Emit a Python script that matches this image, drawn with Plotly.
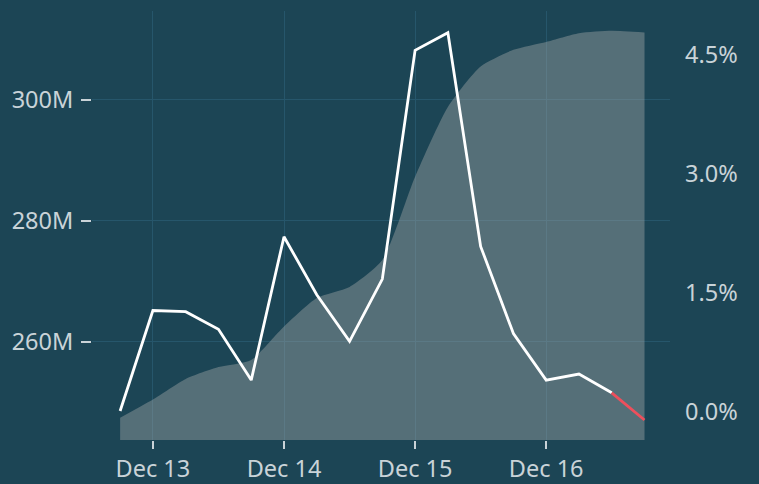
import plotly.graph_objects as go

# ---- data ----
times = [
    "2023-12-12 18:00", "2023-12-13 00:00", "2023-12-13 06:00", "2023-12-13 12:00",
    "2023-12-13 18:00", "2023-12-14 00:00", "2023-12-14 06:00", "2023-12-14 12:00",
    "2023-12-14 18:00", "2023-12-15 00:00", "2023-12-15 06:00", "2023-12-15 12:00",
    "2023-12-15 18:00", "2023-12-16 00:00", "2023-12-16 06:00", "2023-12-16 12:00",
    "2023-12-16 18:00",
]
volume_m = [248.6, 265.2, 265.0, 262.1, 253.7, 277.4, 267.8, 260.1, 270.4,
            308.2, 311.1, 275.8, 261.4, 253.7, 254.7, 251.6, 247.1]
cum_pct = [-0.08, 0.15, 0.41, 0.56, 0.65, 1.07, 1.43, 1.57, 1.91,
           2.96, 3.84, 4.35, 4.56, 4.66, 4.77, 4.80, 4.78]
left_ticks_m = [260, 280, 300]
right_ticks_pct = [0.0, 1.5, 3.0, 4.5]

# ---- style ----
BG = "#1c4555"
GRID = "#26566b"
TXT = "#c9d3d8"
FONT = "Noto Sans"
Y_PCT_MIN, Y_PCT_MAX = -0.36, 5.05

volume = [v * 1e6 for v in volume_m]
pct = [p / 100 for p in cum_pct]

fig = go.Figure()

# area on the base (right, percentage) axis
fig.add_trace(go.Scatter(
    x=times, y=[Y_PCT_MIN / 100] * len(times), yaxis="y", mode="lines",
    line=dict(width=0), hoverinfo="skip", showlegend=False,
))
fig.add_trace(go.Scatter(
    x=times, y=pct, yaxis="y", mode="lines", fill="tonexty",
    fillcolor="rgba(165,170,170,0.42)",
    line=dict(width=0, shape="spline", smoothing=0.6),
    showlegend=False,
))
# line on the overlaying (left, volume) axis
fig.add_trace(go.Scatter(
    x=times[:-1], y=volume[:-1], yaxis="y2", mode="lines",
    line=dict(color="#ffffff", width=2.8), showlegend=False,
))
fig.add_trace(go.Scatter(
    x=times[-2:], y=volume[-2:], yaxis="y2", mode="lines",
    line=dict(color="#ee4f5c", width=2.8), showlegend=False,
))

fig.update_layout(
    width=759, height=484,
    margin=dict(l=92, r=89, t=11, b=44),
    paper_bgcolor=BG, plot_bgcolor=BG,
    font=dict(family=FONT, size=23.5, color=TXT),
    xaxis=dict(
        type="date", automargin=False,
        range=["2023-12-12 12:51", "2023-12-16 22:40"],
        dtick=86400000, tick0="2023-12-13",
        tickformat="%b %d",
        showgrid=True, gridcolor=GRID, gridwidth=1,
        zeroline=False, showline=False,
        ticks="outside", ticklen=8, tickwidth=1.5, tickcolor=TXT,
    ),
    yaxis=dict(
        automargin=False, side="right",
        range=[Y_PCT_MIN / 100, Y_PCT_MAX / 100],
        tickvals=[t / 100 for t in right_ticks_pct],
        tickformat=".1%",
        showgrid=False, zeroline=False, showline=False,
        ticks="", ticklabelstandoff=14,
    ),
    yaxis2=dict(
        automargin=False, side="left", overlaying="y",
        range=[243.8e6, 314.7e6],
        tickvals=[t * 1e6 for t in left_ticks_m],
        ticktext=[f"{t}M" for t in left_ticks_m],
        showgrid=True, gridcolor=GRID, gridwidth=1,
        zeroline=False, showline=False,
        ticks="outside", ticklen=10, tickwidth=2, tickcolor=TXT,
        ticklabelstandoff=3,
    ),
)

fig.write_html(
    "out.html",
    config={"displayModeBar": False},
    post_script="document.body.style.margin='0';document.body.style.overflow='hidden';",
)
